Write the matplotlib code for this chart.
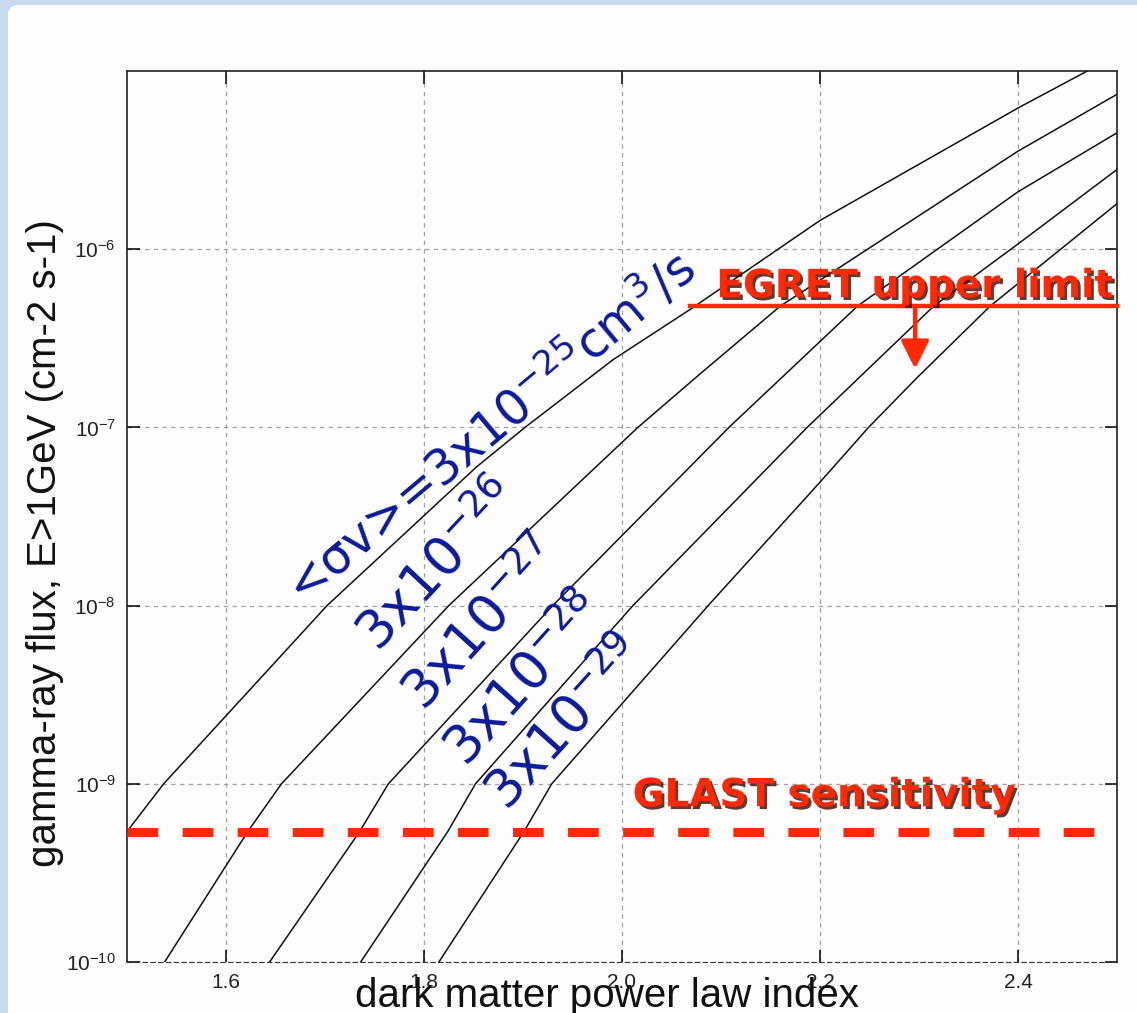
import matplotlib
matplotlib.use("Agg")
from matplotlib import pyplot as plt
from matplotlib import patheffects as pe
from matplotlib.patches import FancyBboxPatch
from matplotlib.transforms import IdentityTransform
from matplotlib.ticker import FixedLocator, NullLocator

# curves: power law index -> flux (cm-2 s-1), one pair per <sigma v>
idx_25 = [1.500, 1.537, 1.702, 1.853, 1.902, 1.991, 2.069, 2.200, 2.400, 2.470]
flux_25 = [5.4e-10, 1e-9, 1e-8, 6.0e-8, 1e-7, 2.4e-7, 4.6e-7, 1.45e-6, 6.2e-6, 1e-5]

idx_26 = [1.538, 1.622, 1.656, 1.825, 2.016, 2.079, 2.160, 2.400, 2.500]
flux_26 = [1e-10, 5.4e-10, 1e-9, 1e-8, 1e-7, 2.0e-7, 4.8e-7, 3.55e-6, 7.4e-6]

idx_27 = [1.644, 1.735, 1.764, 1.930, 2.108, 2.238, 2.400, 2.500]
flux_27 = [1e-10, 5.4e-10, 1e-9, 1e-8, 1e-7, 4.8e-7, 2.1e-6, 4.5e-6]

idx_28 = [1.736, 1.824, 1.852, 2.011, 2.187, 2.315, 2.400, 2.500]
flux_28 = [1e-10, 5.4e-10, 1e-9, 1e-8, 1e-7, 4.8e-7, 1.07e-6, 2.8e-6]

idx_29 = [1.815, 1.901, 1.929, 2.087, 2.201, 2.249, 2.298, 2.372, 2.500]
flux_29 = [1e-10, 5.4e-10, 1e-9, 1e-8, 5.0e-8, 1e-7, 1.9e-7, 4.8e-7, 1.8e-6]

curve_labels = ['<σv>=3x10$^{-25}$cm$^{3}$/s', '3x10$^{-26}$', '3x10$^{-27}$',
                '3x10$^{-28}$', '3x10$^{-29}$']
label_idx = [1.867, 1.815, 1.860, 1.902, 1.944]
label_flux = [1.0e-7, 1.65e-8, 7.8e-9, 3.8e-9, 2.15e-9]
label_rot = [40, 47, 48, 48, 48]

# GLAST sensitivity and EGRET upper limit
glast_flux = 5.4e-10
glast_idx = [1.5, 2.483]
egret_flux = 4.8e-7
egret_idx = [2.069, 2.5]
arrow_idx = 2.296
arrow_tip = 2.13e-7

xticks = [1.6, 1.8, 2.0, 2.2, 2.4]
yticks = [1e-10, 1e-9, 1e-8, 1e-7, 1e-6]

red = '#ff2a05'
blue = '#0b1a99'

plt.rcParams['font.family'] = ['Liberation Sans', 'DejaVu Sans']

fig = plt.figure(figsize=(11.37, 10.13), dpi=100)
fig.patch.set_facecolor('#c6dbef')
# white slide panel, behind the axes
panel = FancyBboxPatch((8, -40), 1200, 1048, boxstyle='round,pad=0,rounding_size=10',
                       transform=IdentityTransform(), facecolor='#fdfdfd', edgecolor='none',
                       zorder=-10)
fig.patches.append(panel)

ax = fig.add_axes([0.1117, 0.0503, 0.8707, 0.8796])
ax.set_facecolor('#fdfdfd')
ax.set_yscale('log')
ax.set_xlim(1.5, 2.5)
ax.set_ylim(1e-10, 1e-5)

for xs, ys in [(idx_25, flux_25), (idx_26, flux_26), (idx_27, flux_27),
               (idx_28, flux_28), (idx_29, flux_29)]:
    ax.plot(xs, ys, color='#111111', lw=1.1, zorder=3)

ax.plot(glast_idx, [glast_flux, glast_flux], color=red, lw=6.5,
        linestyle=(0, (3.4, 2.7)), solid_capstyle='butt', dash_capstyle='butt', zorder=4)
ax.plot(egret_idx, [egret_flux, egret_flux], color=red, lw=3.2, zorder=4, clip_on=False)
ax.annotate('', xy=(arrow_idx, arrow_tip), xytext=(arrow_idx, egret_flux),
            arrowprops=dict(arrowstyle='-|>', color=red, lw=3.2, mutation_scale=42,
                            shrinkA=0, shrinkB=0), zorder=4)

for txt, x, y, r in zip(curve_labels, label_idx, label_flux, label_rot):
    size = 35 if r == 40 else 38
    ax.text(x, y, txt, color=blue, fontsize=size, rotation=r, ha='center', va='center',
            rotation_mode='anchor', family='DejaVu Sans', zorder=5)

shadow = [pe.SimplePatchShadow(offset=(2, -2), shadow_rgbFace='#3a0a00', alpha=0.8), pe.Normal()]
ax.text(2.2955, 5.38e-7, 'EGRET upper limit', color=red, fontsize=28, fontweight='bold',
        family='DejaVu Sans', ha='center', va='baseline', path_effects=shadow, zorder=6)
ax.text(2.204, 7.48e-10, 'GLAST sensitivity', color=red, fontsize=28, fontweight='bold',
        family='DejaVu Sans', ha='center', va='baseline', path_effects=shadow, zorder=6)

# matlab style axes
ax.xaxis.set_major_locator(FixedLocator(xticks))
ax.yaxis.set_major_locator(FixedLocator(yticks))
ax.yaxis.set_minor_locator(NullLocator())
ax.set_xticklabels(['1.6', '1.8', '2.0', '2.2', '2.4'])
ax.tick_params(direction='in', length=9, width=1.1, top=True, right=True,
               labelsize=15, labelcolor='#222222', pad=8)
ax.grid(True, color='#a0a0a0', linestyle=(0, (3.5, 3.5)), lw=0.9)
for side in ['left', 'top', 'right']:
    ax.spines[side].set_linewidth(1.2)
    ax.spines[side].set_color('#222222')
ax.spines['bottom'].set_linestyle((0, (4, 3)))
ax.spines['bottom'].set_color('#333333')

ax.set_xlabel('dark matter power law index', fontsize=29, color='#111111')
ax.xaxis.set_label_coords(0.485, -0.017)
ax.set_ylabel('gamma-ray flux, E>1GeV (cm-2 s-1)', fontsize=29, color='#111111')
ax.yaxis.set_label_coords(-0.064, 0.47)

fig.savefig('out.png', dpi=100, facecolor=fig.get_facecolor())
